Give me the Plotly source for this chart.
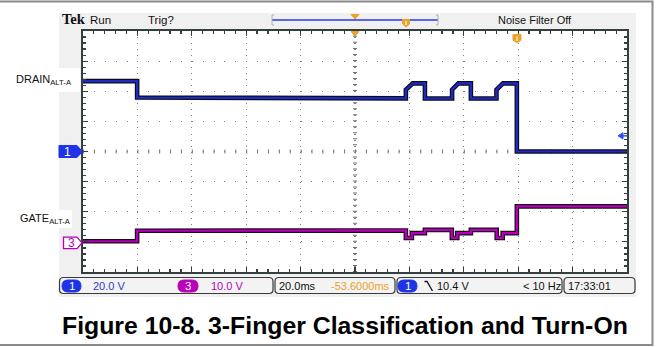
import plotly.graph_objects as go

# ---------------- waveform data ----------------
# time in ms across the 10-division screen (20 ms/div)
drain_t = [0, 19.9, 19.9, 118.7, 118.7, 121.2, 125.7, 125.7, 135.7, 135.7,
           138.0, 142.6, 142.6, 152.0, 152.0, 154.4, 159.5, 159.5, 200]
# drain voltage, channel 1 (20 V/div)
drain_v = [46.7, 46.7, 35.8, 35.3, 41.0, 45.2, 45.2, 35.2, 35.2, 41.0,
           45.2, 45.2, 35.2, 35.2, 41.0, 45.2, 45.2, 0.0, 0.0]

gate_t = [0, 19.9, 19.9, 118.7, 118.7, 120.9, 120.9, 125.7, 125.7, 135.6,
          135.6, 137.6, 137.6, 142.6, 142.6, 152.1, 152.1, 154.3, 154.3,
          159.5, 159.5, 200]
# gate voltage, channel 3 (10 V/div)
gate_v = [0.2, 0.2, 3.7, 3.8, 1.3, 1.3, 2.9, 2.9, 4.0, 4.0,
          1.3, 1.3, 2.9, 2.9, 4.0, 4.0, 1.3, 1.3, 2.9,
          2.9, 11.8, 11.8]

ch1_scale = "20.0 V"
ch3_scale = "10.0 V"
time_scale = "20.0ms"
h_position = "-53.6000ms"
trig_level_v = 10.4
trig_text = "10.4 V"
trig_freq = "< 10 Hz"
clock = "17:33:01"

title = "Figure 10-8. 3-Finger Classification and Turn-On"

# ---------------- geometry ----------------
W, H = 658, 347
PL, PR, PT, PB = 83, 627, 31, 272
Y1_RANGE = [-80, 80]
Y2_RANGE = [-10, 70]


def px(x):
    return (x - PL) / (PR - PL)


def py(y):
    return (PB - y) / (PB - PT)


def y1_px(v):
    return PT + (Y1_RANGE[1] - v) / (Y1_RANGE[1] - Y1_RANGE[0]) * (PB - PT)


def y2_px(v):
    return PT + (Y2_RANGE[1] - v) / (Y2_RANGE[1] - Y2_RANGE[0]) * (PB - PT)


def path(points, close=True):
    s = "M " + " L ".join(f"{px(x):.5f},{py(y):.5f}" for x, y in points)
    return s + (" Z" if close else "")


def rrect(x0, y0, x1, y1, r):
    def p(x, y):
        return f"{px(x):.5f},{py(y):.5f}"
    return (f"M {p(x0 + r, y0)} L {p(x1 - r, y0)} Q {p(x1, y0)} {p(x1, y0 + r)} "
            f"L {p(x1, y1 - r)} Q {p(x1, y1)} {p(x1 - r, y1)} "
            f"L {p(x0 + r, y1)} Q {p(x0, y1)} {p(x0, y1 - r)} "
            f"L {p(x0, y0 + r)} Q {p(x0, y0)} {p(x0 + r, y0)} Z")


def label(x, y, text, size, color, family=None, xanchor="left"):
    return dict(x=px(x), y=py(y), xref="paper", yref="paper", text=text,
                showarrow=False, xanchor=xanchor, yanchor="middle",
                font=dict(family=family or FONT, size=size, color=color))


BLUE = "#1e2bc8"
BLUE_TXT = "#2b3bd6"
MAG = "#b800b8"
ORANGE = "#eda22a"
FRAME = "#34403f"
FONT = "Liberation Sans"

fig = go.Figure()

# outlined traces: dark halo underneath, coloured line on top
fig.add_trace(go.Scatter(x=drain_t, y=drain_v, mode="lines", yaxis="y",
                         line=dict(color="#0d0d1a", width=4.6), hoverinfo="skip"))
fig.add_trace(go.Scatter(x=drain_t, y=drain_v, mode="lines", yaxis="y",
                         line=dict(color=BLUE, width=2.2), hoverinfo="skip"))
fig.add_trace(go.Scatter(x=gate_t, y=gate_v, mode="lines", yaxis="y2",
                         line=dict(color="#1a0a1a", width=4.6), hoverinfo="skip"))
fig.add_trace(go.Scatter(x=gate_t, y=gate_v, mode="lines", yaxis="y2",
                         line=dict(color=MAG, width=2.2), hoverinfo="skip"))

shapes = []
annotations = []

# outer figure border and scope background
shapes.append(dict(type="rect", xref="paper", yref="paper", layer="below",
                   x0=px(-4), x1=px(652.5), y0=py(1.5), y1=py(345),
                   line=dict(color="#8a8a8a", width=2), fillcolor="white"))
shapes.append(dict(type="rect", xref="paper", yref="paper", layer="below",
                   x0=px(59), x1=px(636), y0=py(13), y1=py(297),
                   line=dict(width=0), fillcolor="#f0f0f0"))
shapes.append(dict(type="rect", xref="paper", yref="paper", layer="below",
                   x0=0, x1=1, y0=0, y1=1, line=dict(width=0), fillcolor="white"))
# white label panels
shapes.append(dict(type="rect", xref="paper", yref="paper", layer="below",
                   x0=px(-4), x1=px(80), y0=py(68), y1=py(92),
                   line=dict(width=0), fillcolor="white"))
shapes.append(dict(type="rect", xref="paper", yref="paper", layer="below",
                   x0=px(-4), x1=px(72), y0=py(210), y1=py(228),
                   line=dict(width=0), fillcolor="white"))

# centre cross-hair with minor ticks
shapes.append(dict(type="line", xref="paper", yref="paper", layer="below",
                   x0=0, x1=1, y0=0.5, y1=0.5,
                   line=dict(color="#707070", width=4, dash="1px,9.88px")))
shapes.append(dict(type="line", xref="paper", yref="paper", layer="below",
                   x0=0.5, x1=0.5, y0=0, y1=1,
                   line=dict(color="#707070", width=4, dash="1px,5.03px")))

# channel ground markers
g1 = y1_px(0)
shapes.append(dict(type="path", xref="paper", yref="paper",
                   path=path([(59, g1 - 6), (77, g1 - 6), (82.5, g1), (77, g1 + 6), (59, g1 + 6)]),
                   fillcolor="#1f33e6", line=dict(color="#1f33e6", width=1)))
annotations.append(label(67, g1, "1", 12, "white", xanchor="center"))
g3 = y2_px(0) + 1
shapes.append(dict(type="path", xref="paper", yref="paper",
                   path=path([(63.5, g3 - 5.8), (77, g3 - 5.8), (82, g3), (77, g3 + 5.8), (63.5, g3 + 5.8)]),
                   fillcolor="white", line=dict(color=MAG, width=1.3)))
annotations.append(label(71, g3, "3", 12, MAG, xanchor="center"))

# trigger level arrow on the right edge
tl = y1_px(trig_level_v)
shapes.append(dict(type="path", xref="paper", yref="paper",
                   path=path([(618, tl), (623, tl - 3.2), (623, tl + 3.2)]),
                   fillcolor="#3050f0", line=dict(color="#3050f0", width=1)))
shapes.append(dict(type="line", xref="paper", yref="paper",
                   x0=px(622), x1=px(627), y0=py(tl), y1=py(tl),
                   line=dict(color="#3050f0", width=1.5)))

# horizontal position / trigger markers on the top edge
shapes.append(dict(type="path", xref="paper", yref="paper",
                   path=path([(351, 31.5), (359, 31.5), (355, 36)]),
                   fillcolor=ORANGE, line=dict(color=ORANGE, width=1)))
shapes.append(dict(type="path", xref="paper", yref="paper",
                   path=path([(513, 34.5), (521, 34.5), (521, 40), (517, 43), (513, 40)]),
                   fillcolor=ORANGE, line=dict(color=ORANGE, width=1)))
shapes.append(dict(type="line", xref="paper", yref="paper",
                   x0=px(517), x1=px(517), y0=py(36.5), y1=py(41),
                   line=dict(color="white", width=1.2)))

# record-length bar in the header
shapes.append(dict(type="line", xref="paper", yref="paper",
                   x0=px(272), x1=px(438), y0=py(20), y1=py(20),
                   line=dict(color="#2a3ae8", width=1.6)))
for bx, d in ((272, 1), (438, -1)):
    shapes.append(dict(type="path", xref="paper", yref="paper",
                       path=path([(bx + 2 * d, 15), (bx, 15), (bx, 25), (bx + 2 * d, 25)], close=False),
                       line=dict(color="#b0b0b0", width=1)))
shapes.append(dict(type="path", xref="paper", yref="paper",
                   path=path([(351, 14.5), (359, 14.5), (355, 19)]),
                   fillcolor=ORANGE, line=dict(color=ORANGE, width=1)))
shapes.append(dict(type="path", xref="paper", yref="paper",
                   path=path([(402.5, 19.5), (409.5, 19.5), (409.5, 24), (406, 27), (402.5, 24)]),
                   fillcolor=ORANGE, line=dict(color=ORANGE, width=1)))
shapes.append(dict(type="line", xref="paper", yref="paper",
                   x0=px(406), x1=px(406), y0=py(21), y1=py(25),
                   line=dict(color="white", width=1.2)))

# header text
annotations.append(label(59.5, 19.5, "<b>Tek</b>", 14.5, "#111", family="Liberation Serif"))
annotations.append(label(88, 20, "Run", 11.5, "#111"))
annotations.append(label(146, 20, "Trig?", 11.5, "#111"))
annotations.append(label(496, 20, "Noise Filter Off", 11, "#111"))

# channel labels
annotations.append(label(74, 80, "DRAIN<sub>ALT-A</sub>", 11, "#111", xanchor="right"))
annotations.append(label(73, 219, "GATE<sub>ALT-A</sub>", 11, "#111", xanchor="right"))

# status bar
for x0, x1 in ((59.5, 273), (275, 395), (397, 562), (564, 635)):
    shapes.append(dict(type="path", xref="paper", yref="paper",
                       path=rrect(x0, 277.5, x1, 293.5, 4),
                       fillcolor="#f3f3f3", line=dict(color="#3a3a3a", width=1.2)))
for x0, x1, col, lab in ((62, 81, "#1f33e6", "1"), (178, 198, MAG, "3"), (398, 417, "#1f33e6", "1")):
    shapes.append(dict(type="path", xref="paper", yref="paper",
                       path=rrect(x0, 280, x1, 292, 6),
                       fillcolor=col, line=dict(color=col, width=1)))
    annotations.append(label((x0 + x1) / 2, 286, lab, 11.5, "white", xanchor="center"))

status = [
    (91, ch1_scale, BLUE_TXT),
    (208.5, ch3_scale, MAG),
    (277, time_scale, "#111"),
    (328.5, h_position, ORANGE),
    (435, trig_text, "#111"),
    (521, trig_freq, "#111"),
    (566, clock, "#111"),
]
for x, t, c in status:
    annotations.append(label(x, 286, t, 11, c))
# falling-slope icon
shapes.append(dict(type="path", xref="paper", yref="paper",
                   path=path([(424.5, 281.5), (427, 281.5), (432.5, 291)], close=False),
                   line=dict(color="#111", width=1.3)))

# figure caption
annotations.append(label(345, 325, "<b>" + title + "</b>", 24.8, "black", xanchor="center"))

axis_common = dict(showticklabels=False, showline=True, linecolor=FRAME, linewidth=2,
                   mirror="ticks", ticks="inside", tickcolor=FRAME, tickwidth=1.2,
                   zeroline=False, fixedrange=True)

fig.update_layout(
    width=W, height=H,
    margin=dict(l=PL, r=W - PR, t=PT, b=H - PB, pad=0),
    paper_bgcolor="white", plot_bgcolor="white",
    showlegend=False, hovermode=False,
    xaxis=dict(range=[0, 200], dtick=20, tick0=0, ticklen=5,
               showgrid=True, gridcolor="#808080", gridwidth=1.2, griddash="1px,5.03px",
               minor=dict(dtick=4, tick0=0, ticks="inside", ticklen=3, tickcolor=FRAME, showgrid=False),
               **axis_common),
    yaxis=dict(range=Y1_RANGE, dtick=20, tick0=0, ticklen=5,
               showgrid=True, gridcolor="#808080", gridwidth=1.2, griddash="1px,9.88px",
               minor=dict(dtick=4, tick0=0, ticks="inside", ticklen=3, tickcolor=FRAME, showgrid=False),
               **axis_common),
    yaxis2=dict(range=Y2_RANGE, overlaying="y", visible=False, fixedrange=True),
    shapes=shapes,
    annotations=annotations,
)

fig.write_html("out.html", config=dict(displayModeBar=False, staticPlot=True))
